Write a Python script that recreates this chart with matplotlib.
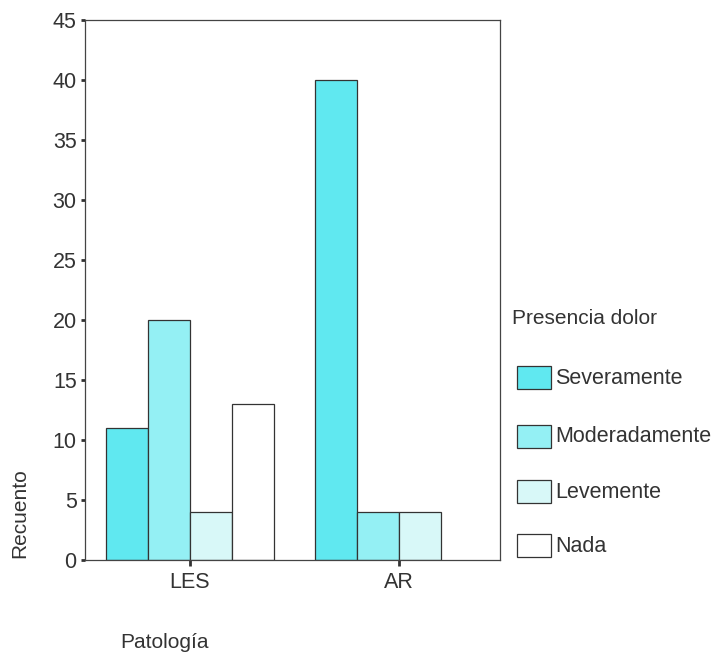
import matplotlib.pyplot as plt
import numpy as np

plt.rcParams['font.family'] = ['Liberation Sans', 'DejaVu Sans']

groups = ["LES", "AR"]
series = ["Severamente", "Moderadamente", "Levemente", "Nada"]
counts = {
    "Severamente": [11, 40],
    "Moderadamente": [20, 4],
    "Levemente": [4, 4],
    "Nada": [13, 0],
}
colors = ["#60e8f0", "#94f0f4", "#d8f8f8", "#ffffff"]
yticks = [0, 5, 10, 15, 20, 25, 30, 35, 40, 45]

fig = plt.figure(figsize=(7.13, 6.57), dpi=100)
ax = fig.add_axes([85 / 713, 1 - 560 / 657, 415 / 713, 540 / 657])

x = np.arange(len(groups))
w = 0.2
for i, s in enumerate(series):
    vals = counts[s]
    for j, v in enumerate(vals):
        if v > 0:
            ax.bar(x[j] + (i - 2) * w, v, w, align="edge", color=colors[i],
                   edgecolor="#333333", linewidth=0.9)

ax.set_xlim(-0.502, 1.483)
ax.set_ylim(0, 45)
ax.set_yticks(yticks)
ax.set_xticks(x)
ax.set_xticklabels(groups)
ax.tick_params(axis="y", direction="out", length=3, width=2, labelsize=15.5, pad=3, colors="#333333")
ax.tick_params(axis="x", direction="out", length=4, width=2, labelsize=15.5, pad=5, colors="#333333")
for lab in ax.get_xticklabels() + ax.get_yticklabels():
    lab.set_color("#333333")
for sp in ax.spines.values():
    sp.set_color("#444444")
    sp.set_linewidth(0.9)

fig.text(20 / 713, 1 - 558 / 657, "Recuento", rotation=90, fontsize=15,
         ha="center", va="bottom", color="#333333")
fig.text(120 / 713, 1 - 643 / 657, "Patología", fontsize=15,
         ha="left", va="center", color="#333333")

fig.text(512 / 713, 1 - 318 / 657, "Presencia dolor", fontsize=15,
         ha="left", va="center", color="#333333")
ys = [378, 437, 492, 546]
for i, s in enumerate(series):
    yc = 1 - ys[i] / 657
    fig.patches.append(plt.Rectangle((517 / 713, yc - 11 / 657), 34 / 713, 23 / 657,
                                     transform=fig.transFigure, facecolor=colors[i],
                                     edgecolor="#333333", linewidth=0.9))
    fig.text(555 / 713, yc, s, fontsize=15.5, ha="left", va="center", color="#333333")

fig.savefig("out.png", dpi=100)
